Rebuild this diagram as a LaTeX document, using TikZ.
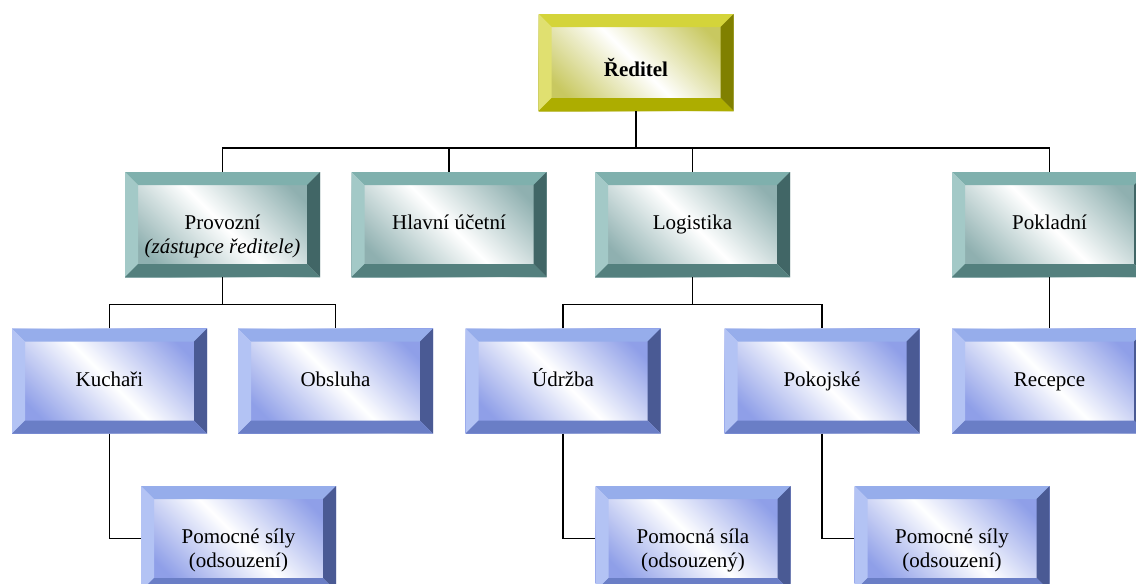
\documentclass[tikz,border=0pt]{standalone}
\usepackage{fontspec}
\setmainfont{Liberation Serif}
\usepackage{tikz}
\definecolor{goldtop}{HTML}{D4D43A}
\definecolor{goldleft}{HTML}{E0E070}
\definecolor{goldright}{HTML}{808000}
\definecolor{goldbot}{HTML}{ADAD00}
\definecolor{goldtint}{HTML}{C8C860}
\definecolor{tealtop}{HTML}{7FB0AD}
\definecolor{tealleft}{HTML}{A3C9C7}
\definecolor{tealright}{HTML}{416666}
\definecolor{tealbot}{HTML}{54807E}
\definecolor{tealtint}{HTML}{8FB0B0}
\definecolor{bluetop}{HTML}{96ADEB}
\definecolor{blueleft}{HTML}{B3C3F4}
\definecolor{blueright}{HTML}{4A5A94}
\definecolor{bluebot}{HTML}{6A7EC6}
\definecolor{bluetint}{HTML}{8F9FE8}
\tikzset{bevel/.style n args={5}{minimum width=195pt, minimum height=105pt, inner sep=0pt,
  align=center, font=\rmfamily\fontsize{21}{24}\selectfont, text height=15pt, text depth=5pt,
  left color=#5, right color=#5, middle color=white, shading angle=-45,
  path picture={
    \coordinate (pp-nw) at (path picture bounding box.north west);
    \coordinate (pp-ne) at (path picture bounding box.north east);
    \coordinate (pp-sw) at (path picture bounding box.south west);
    \coordinate (pp-se) at (path picture bounding box.south east);
    \fill[#1] (pp-nw) -- (pp-ne) -- ([shift={(-13pt,-13pt)}]pp-ne) -- ([shift={(13pt,-13pt)}]pp-nw) -- cycle;
    \fill[#2] (pp-nw) -- ([shift={(13pt,-13pt)}]pp-nw) -- ([shift={(13pt,13pt)}]pp-sw) -- (pp-sw) -- cycle;
    \fill[#3] (pp-ne) -- (pp-se) -- ([shift={(-13pt,13pt)}]pp-se) -- ([shift={(-13pt,-13pt)}]pp-ne) -- cycle;
    \fill[#4] (pp-sw) -- (pp-se) -- ([shift={(-13pt,13pt)}]pp-se) -- ([shift={(13pt,13pt)}]pp-sw) -- cycle;
  }}}
\tikzset{goldbox/.style={bevel={goldtop}{goldleft}{goldright}{goldbot}{goldtint}},
  tealbox/.style={bevel={tealtop}{tealleft}{tealright}{tealbot}{tealtint}},
  bluebox/.style={bevel={bluetop}{blueleft}{blueright}{bluebot}{bluetint}},
  link/.style={draw=black, line width=1.8pt}}
\newcommand{\twolines}[2]{\raisebox{0pt}[15pt][5pt]{\begin{tabular}[t]{@{}c@{}}#1\\#2\end{tabular}}}

\begin{document}
\begin{tikzpicture}[x=1pt, y=-1pt]
  \useasboundingbox (0,0) rectangle (1136,584);
  \clip (0,0) rectangle (1136,584);

  \node[goldbox, minimum height=97pt, text height=27pt, text depth=0pt] (red) at (636,62.5) {\textbf{Ředitel}};

  \node[tealbox] (prov) at (222.5,224.5) {\twolines{Provozní}{\textit{(zástupce ředitele)}}};
  \node[tealbox] (hlav) at (449,224.5) {Hlavní účetní};
  \node[tealbox] (logi) at (692.5,224.5) {Logistika};
  \node[tealbox] (pokl) at (1049.5,224.5) {Pokladní};

  \node[bluebox] (kuch) at (109.5,381) {Kuchaři};
  \node[bluebox] (obsl) at (335.5,381) {Obsluha};
  \node[bluebox] (udrz) at (563,381) {Údržba};
  \node[bluebox] (poko) at (822,381) {Pokojské};
  \node[bluebox] (rece) at (1049.5,381) {Recepce};

  \node[bluebox] (pomk) at (238.5,538.5) {\twolines{Pomocné síly}{(odsouzení)}};
  \node[bluebox] (pomu) at (693,538.5) {\twolines{Pomocná síla}{(odsouzený)}};
  \node[bluebox] (pomp) at (952,538.5) {\twolines{Pomocné síly}{(odsouzení)}};

  \coordinate (bus1) at (636,148);
  \coordinate (bus2) at (222.5,304.5);
  \coordinate (bus3) at (692.5,304.5);

  \draw[link] (red.south) -- (bus1);
  \draw[link] (prov.north) |- (bus1) -| (pokl.north);
  \draw[link] (hlav.north) -- (hlav.north |- bus1);
  \draw[link] (logi.north) -- (logi.north |- bus1);

  \draw[link] (prov.south) -- (bus2);
  \draw[link] (kuch.north) |- (bus2) -| (obsl.north);
  \draw[link] (logi.south) -- (bus3);
  \draw[link] (udrz.north) |- (bus3) -| (poko.north);
  \draw[link] (pokl.south) -- (rece.north);

  \draw[link] (kuch.south) |- (pomk.west);
  \draw[link] (udrz.south) |- (pomu.west);
  \draw[link] (poko.south) |- (pomp.west);
\end{tikzpicture}
\end{document}
